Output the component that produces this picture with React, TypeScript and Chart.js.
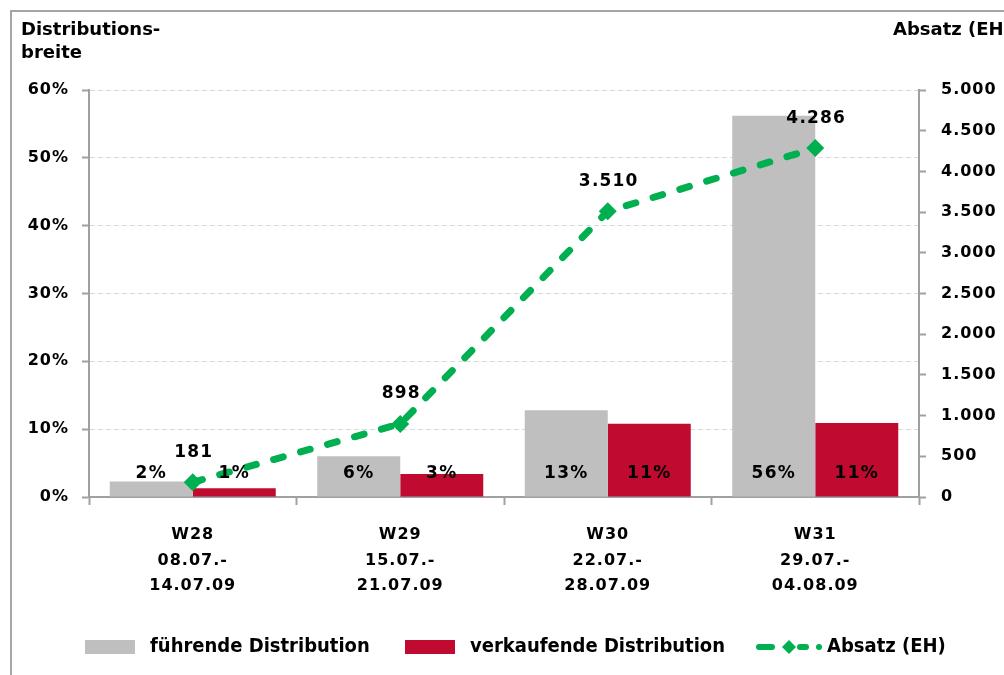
import React, { useEffect, useRef } from "react";
import { Chart, registerables } from "chart.js";

Chart.register(...registerables);

const categories: string[][] = [
  ["W28", "08.07.-", "14.07.09"],
  ["W29", "15.07.-", "21.07.09"],
  ["W30", "22.07.-", "28.07.09"],
  ["W31", "29.07.-", "04.08.09"],
];
const fuehrende: number[] = [2.3, 6.0, 12.8, 56.2];
const verkaufende: number[] = [1.3, 3.4, 10.8, 10.9];
const absatz: number[] = [181, 898, 3510, 4286];

const GRAY = "#BFBFBF";
const RED = "#C00A2F";
const GREEN = "#00B050";
const AXIS = "#A0A0A0";
const FONT = "'DejaVu Sans', Verdana, sans-serif";
const FONT_C = "'DejaVu Sans Condensed', 'DejaVu Sans', sans-serif";

const fmtDe = (v: number) => String(Math.round(v)).replace(/\B(?=(\d{3})+(?!\d))/g, ".");

const decorPlugin = {
  id: "decor",
  beforeDraw(chart: any) {
    const ctx = chart.ctx;
    ctx.save();
    ctx.strokeStyle = "#A6A6A6";
    ctx.lineWidth = 2;
    ctx.beginPath();
    ctx.moveTo(11, 675);
    ctx.lineTo(11, 11);
    ctx.lineTo(1004, 11);
    ctx.stroke();
    ctx.restore();
    (ctx as any).letterSpacing = "1px";
  },
  afterDatasetsDraw(chart: any) {
    const ctx = chart.ctx;
    ctx.save();
    (ctx as any).letterSpacing = "1.2px";
    ctx.fillStyle = "#000";
    ctx.textAlign = "center";
    ctx.textBaseline = "middle";
    ctx.font = `bold 17px ${FONT}`;
    const y0 = chart.scales.y.getPixelForValue(0);
    [0, 1].forEach((di) => {
      const meta = chart.getDatasetMeta(di);
      const data = chart.data.datasets[di].data as number[];
      meta.data.forEach((el: any, i: number) => {
        ctx.fillText(Math.round(data[i]) + "%", el.x, y0 - 23);
      });
    });
    const lm = chart.getDatasetMeta(2);
    lm.data.forEach((el: any, i: number) => {
      ctx.fillText(fmtDe(absatz[i]), el.x + 1, el.y - 30);
    });
    ctx.restore();
  },
  afterDraw(chart: any) {
    const ctx = chart.ctx;
    ctx.save();
    (ctx as any).letterSpacing = "0px";
    ctx.fillStyle = "#000";
    ctx.textBaseline = "middle";
    ctx.textAlign = "left";
    ctx.font = `bold 18px ${FONT}`;
    ctx.fillText("Distributions-", 21, 30);
    ctx.fillText("breite", 21, 53);
    ctx.fillText("Absatz (EH)", 893, 30);

    // legend
    const ly = 647;
    ctx.font = `bold 20px ${FONT_C}`;
    ctx.fillStyle = GRAY;
    ctx.fillRect(85, ly - 7, 50, 14);
    ctx.fillStyle = "#000";
    ctx.fillText("führende Distribution", 150, ly);
    ctx.fillStyle = RED;
    ctx.fillRect(405, ly - 7, 50, 14);
    ctx.fillStyle = "#000";
    ctx.fillText("verkaufende Distribution", 470, ly);
    ctx.strokeStyle = GREEN;
    ctx.lineWidth = 6;
    ctx.lineCap = "round";
    ctx.beginPath();
    ctx.moveTo(759, ly);
    ctx.lineTo(772, ly);
    ctx.moveTo(800, ly);
    ctx.lineTo(806, ly);
    ctx.stroke();
    ctx.beginPath();
    ctx.arc(819, ly, 3, 0, Math.PI * 2);
    ctx.fillStyle = GREEN;
    ctx.fill();
    ctx.beginPath();
    ctx.moveTo(789, ly - 7);
    ctx.lineTo(796, ly);
    ctx.lineTo(789, ly + 7);
    ctx.lineTo(782, ly);
    ctx.closePath();
    ctx.fill();
    ctx.fillStyle = "#000";
    ctx.fillText("Absatz (EH)", 827, ly);
    ctx.restore();
  },
};

export default function App() {
  const ref = useRef<HTMLCanvasElement | null>(null);
  useEffect(() => {
    if (!ref.current) return;
    const chart = new Chart(ref.current, {
      type: "bar",
      data: {
        labels: categories as any,
        datasets: [
          {
            label: "führende Distribution",
            data: fuehrende,
            backgroundColor: GRAY,
            yAxisID: "y",
            order: 2,
            categoryPercentage: 0.8,
            barPercentage: 1.0,
          },
          {
            label: "verkaufende Distribution",
            data: verkaufende,
            backgroundColor: RED,
            yAxisID: "y",
            order: 2,
            categoryPercentage: 0.8,
            barPercentage: 1.0,
          },
          {
            type: "line",
            label: "Absatz (EH)",
            data: absatz,
            yAxisID: "y1",
            order: 0,
            borderColor: GREEN,
            backgroundColor: GREEN,
            borderWidth: 7,
            borderDash: [10, 18],
            borderCapStyle: "round",
            borderJoinStyle: "round",
            tension: 0,
            pointStyle: "rectRot",
            pointRadius: 9,
            pointHoverRadius: 9,
            pointBackgroundColor: GREEN,
            pointBorderColor: GREEN,
            pointBorderWidth: 0,
          } as any,
        ],
      },
      options: {
        responsive: false,
        animation: false,
        layout: { padding: { top: 90, left: 0, right: 0, bottom: 0 } },
        plugins: { legend: { display: false }, tooltip: { enabled: false } },
        scales: {
          x: {
            offset: true,
            grid: {
              offset: true,
              drawOnChartArea: false,
              drawTicks: true,
              tickLength: 8,
              tickColor: AXIS,
              tickWidth: 2,
            },
            border: { color: AXIS, width: 2 },
            ticks: {
              color: "#000",
              font: { family: FONT, size: 16, weight: "bold", lineHeight: 1.6 },
              padding: 17,
              maxRotation: 0,
              autoSkip: false,
            },
            afterFit: (s: any) => {
              s.height = 675 - 497;
            },
          },
          y: {
            position: "left",
            min: 0,
            max: 60,
            ticks: {
              stepSize: 10,
              color: "#000",
              font: { family: FONT, size: 16, weight: "bold" },
              padding: 13,
              callback: (v: any) => v + "%",
            },
            grid: {
              color: "#DADADA",
              lineWidth: 1,
              tickLength: 7,
              tickColor: AXIS,
              tickWidth: 2,
              tickBorderDash: [],
            } as any,
            border: { color: AXIS, width: 2, dash: [5, 3] },
            afterFit: (s: any) => {
              s.width = 89;
            },
          },
          y1: {
            position: "right",
            min: 0,
            max: 5000,
            ticks: {
              stepSize: 500,
              color: "#000",
              font: { family: FONT, size: 16, weight: "bold" },
              padding: 15,
              callback: (v: any) => fmtDe(Number(v)),
            },
            grid: {
              drawOnChartArea: false,
              tickLength: 7,
              tickColor: AXIS,
              tickWidth: 2,
            },
            border: { color: AXIS, width: 2 },
            afterFit: (s: any) => {
              s.width = 1004 - 919;
            },
          },
        },
      },
      plugins: [decorPlugin],
    });
    return () => chart.destroy();
  }, []);
  return (
    <div style={{ position: "fixed", left: 0, top: 0, width: 1004, height: 675, background: "#fff" }}>
      <canvas ref={ref} width={1004} height={675} style={{ width: 1004, height: 675, display: "block" }} />
    </div>
  );
}
